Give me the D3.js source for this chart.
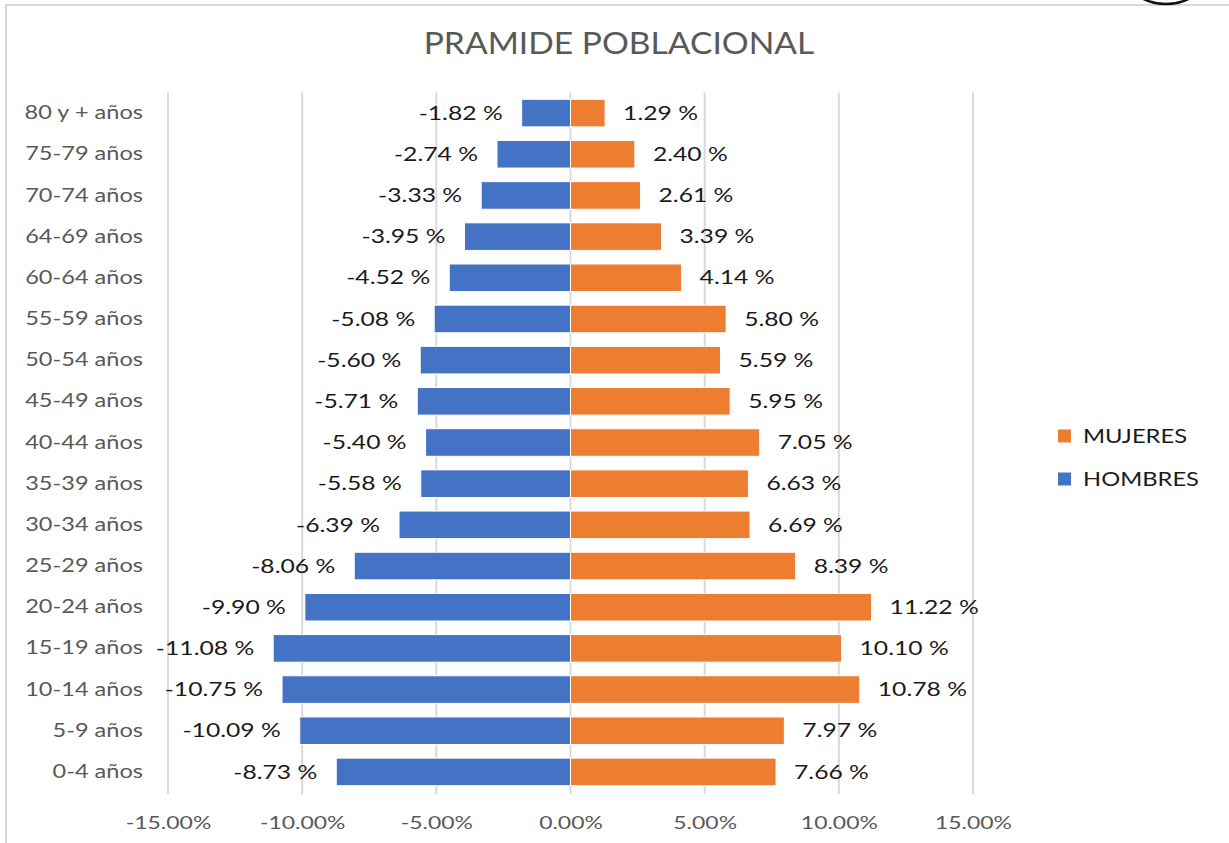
<!DOCTYPE html>
<html>
<head>
<meta charset="utf-8">
<script src="https://cdn.jsdelivr.net/npm/d3@7"></script>
<style>
  html, body { margin: 0; padding: 0; background: #fff; }
  svg { display: block; font-family: Lato, "Open Sans", sans-serif; }
</style>
</head>
<body>
<svg id="chart" width="1229" height="843"></svg>
<script>
const categories = ["80 y + años","75-79 años","70-74 años","64-69 años","60-64 años","55-59 años","50-54 años","45-49 años","40-44 años","35-39 años","30-34 años","25-29 años","20-24 años","15-19 años","10-14 años","5-9 años","0-4 años"];
const hombres = [-1.82,-2.74,-3.33,-3.95,-4.52,-5.08,-5.60,-5.71,-5.40,-5.58,-6.39,-8.06,-9.90,-11.08,-10.75,-10.09,-8.73];
const mujeres = [1.29,2.40,2.61,3.39,4.14,5.80,5.59,5.95,7.05,6.63,6.69,8.39,11.22,10.10,10.78,7.97,7.66];
const xTicks = [-15,-10,-5,0,5,10,15];
const seriesNames = ["MUJERES","HOMBRES"];
const colors = {MUJERES: "#ED7D31", HOMBRES: "#4472C4"};
const title = "PRAMIDE POBLACIONAL";

const svg = d3.select("#chart");

// outer chart border
svg.append("rect").attr("x", 6).attr("y", 5).attr("width", 1400).attr("height", 1000)
  .attr("fill", "none").attr("stroke", "#d9d9d9").attr("stroke-width", 2);

// partial logo at top right
svg.append("ellipse").attr("cx", 1166).attr("cy", -22).attr("rx", 38).attr("ry", 26)
  .attr("fill", "none").attr("stroke", "#111").attr("stroke-width", 2.5);

const x = d3.scaleLinear().domain([-15, 15]).range([168, 973]);
const y = d3.scaleBand().domain(categories).range([92.5, 792.5]).paddingInner(0.33).paddingOuter(0.165);

// title
svg.append("text").attr("transform", "translate(619,54) scale(1.12,1)").attr("text-anchor", "middle")
  .attr("font-size", 30).attr("fill", "#595959").text(title);

// gridlines
svg.append("g").selectAll("line").data(xTicks).join("line")
  .attr("x1", d => x(d)).attr("x2", d => x(d))
  .attr("y1", 92.5).attr("y2", 794)
  .attr("stroke", "#d9d9d9").attr("stroke-width", 2);

// x axis labels
const xAxis = d3.axisBottom(x).tickValues(xTicks).tickSize(0).tickPadding(0)
  .tickFormat(d => d3.format(".2f")(d).replace("−","-") + "%");
const gx = svg.append("g").attr("transform", "translate(0,829)").call(xAxis);
gx.select(".domain").remove();
gx.selectAll("text").attr("font-size", 17).attr("fill", "#595959")
  .attr("font-family", "Lato, sans-serif").attr("dy", 0).attr("y", 0)
  .attr("transform", "scale(1.35,1)");

// y axis labels
const yAxis = d3.axisLeft(y).tickSize(0).tickPadding(0);
const gy = svg.append("g").attr("transform", "translate(143,0)").call(yAxis);
gy.select(".domain").remove();
gy.selectAll("text").attr("font-size", 19).attr("fill", "#595959")
  .attr("font-family", "Lato, sans-serif").attr("transform", "scale(1.24,1)");

const rows = categories.map((c, i) => ({c, h: hombres[i], m: mujeres[i]}));

// bars
svg.append("g").selectAll("rect").data(rows).join("rect")
  .attr("x", d => x(d.h)).attr("width", d => x(0) - x(d.h))
  .attr("y", d => y(d.c)).attr("height", y.bandwidth())
  .attr("fill", colors.HOMBRES).attr("stroke", "#fff").attr("stroke-width", 1);
svg.append("g").selectAll("rect").data(rows).join("rect")
  .attr("x", x(0)).attr("width", d => x(d.m) - x(0))
  .attr("y", d => y(d.c)).attr("height", y.bandwidth())
  .attr("fill", colors.MUJERES).attr("stroke", "#fff").attr("stroke-width", 1);

// data labels
const fmt = d3.format(".2f");
const lblScale = 1.3;
svg.append("g").selectAll("text").data(rows).join("text")
  .attr("transform", d => `translate(${x(d.h) - 19},${y(d.c) + y.bandwidth() / 2}) scale(${lblScale},1)`)
  .attr("dy", "0.35em").attr("text-anchor", "end")
  .attr("font-size", 19).attr("fill", "#1a1a1a")
  .text(d => "-" + fmt(Math.abs(d.h)) + " %");
svg.append("g").selectAll("text").data(rows).join("text")
  .attr("transform", d => `translate(${x(d.m) + 18},${y(d.c) + y.bandwidth() / 2}) scale(${lblScale},1)`)
  .attr("dy", "0.35em").attr("text-anchor", "start")
  .attr("font-size", 19).attr("fill", "#1a1a1a")
  .text(d => fmt(d.m) + " %");

// legend
const leg = svg.append("g").selectAll("g").data(seriesNames).join("g")
  .attr("transform", (d, i) => `translate(1058,${436 + i * 43})`);
leg.append("rect").attr("x", 0).attr("y", -6.5).attr("width", 13).attr("height", 13)
  .attr("fill", d => colors[d]);
leg.append("text").attr("transform", "translate(25,0) scale(1.25,1)").attr("dy", "0.35em")
  .attr("font-size", 19).attr("fill", "#1a1a1a").text(d => d);
</script>
</body>
</html>
